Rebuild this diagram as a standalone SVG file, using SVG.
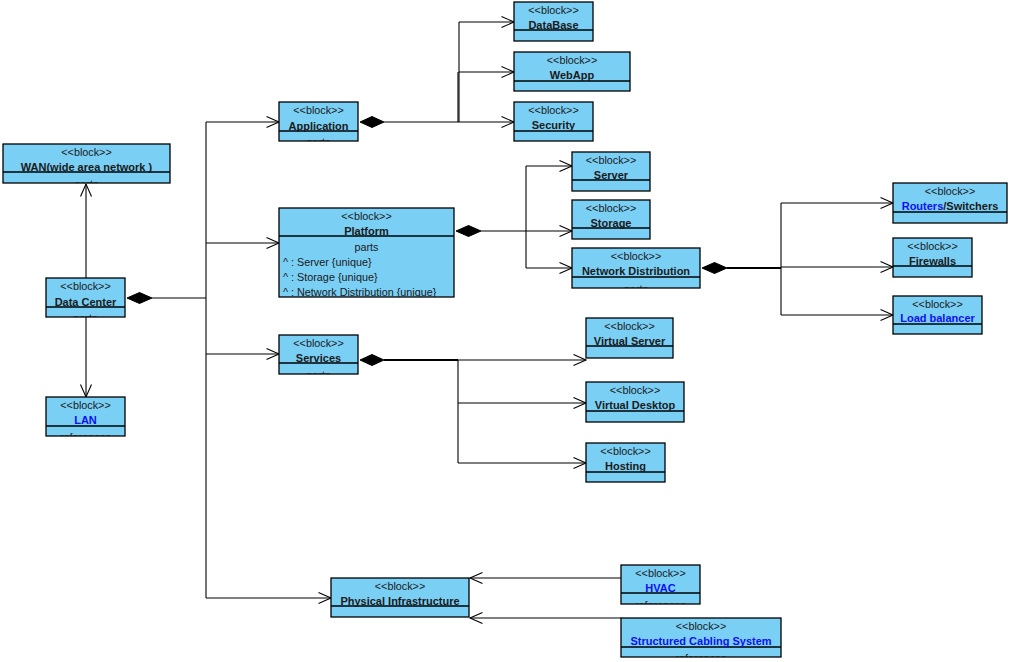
<svg xmlns="http://www.w3.org/2000/svg" width="1012" height="662" viewBox="0 0 1012 662">
<style>
.box{fill:#7ACFF5;stroke:#000;stroke-width:1.3}
.div{stroke:#000;stroke-width:1.3}
text{font-family:"Liberation Sans",Arial,sans-serif;fill:#1a1a1a}
.st{font-size:10.8px;text-anchor:middle}
.nm{font-size:11px;font-weight:bold;text-anchor:middle}
.at{font-size:10.8px}
.ln{fill:#1010f0}
.c{fill:none;stroke:#000;stroke-width:1.1}
.dm{fill:#000;stroke:#000}
</style>
<defs>
<marker id="open" markerUnits="userSpaceOnUse" markerWidth="15" markerHeight="13" refX="13" refY="6.5" orient="auto" viewBox="0 0 15 13">
<path d="M0.5,1 L13,6.5 L0.5,12" fill="none" stroke="#000" stroke-width="1.1"/>
</marker>
</defs>
<rect width="1012" height="662" fill="#fff"/>

<g id="connectors">
<line class="c" x1="86" y1="278" x2="86" y2="184" marker-end="url(#open)"/>
<line class="c" x1="86" y1="317" x2="86" y2="397" marker-end="url(#open)"/>
<polygon class="dm" points="127,298 139.5,292.5 152,298 139.5,303.5"/>
<line class="c" x1="152" y1="298" x2="206" y2="298"/>
<line class="c" x1="206" y1="122" x2="206" y2="598"/>
<line class="c" x1="206" y1="122" x2="279" y2="122" marker-end="url(#open)"/>
<line class="c" x1="206" y1="243" x2="279" y2="243" marker-end="url(#open)"/>
<line class="c" x1="206" y1="354" x2="279" y2="354" marker-end="url(#open)"/>
<line class="c" x1="206" y1="598" x2="331" y2="598" marker-end="url(#open)"/>

<polygon class="dm" points="360,122 372,116.5 384,122 372,127.5"/>
<line class="c" x1="384" y1="122" x2="514" y2="122" marker-end="url(#open)"/>
<line class="c" x1="459" y1="22" x2="459" y2="122"/>
<line class="c" x1="458" y1="72" x2="458" y2="122"/>
<line class="c" x1="459" y1="22" x2="514" y2="22" marker-end="url(#open)"/>
<line class="c" x1="459" y1="72" x2="514" y2="72" marker-end="url(#open)"/>

<polygon class="dm" points="456,231 468.5,225.5 481,231 468.5,236.5"/>
<line class="c" x1="481" y1="231" x2="572" y2="231" marker-end="url(#open)"/>
<line class="c" x1="526" y1="166" x2="526" y2="268"/>
<line class="c" x1="526" y1="166" x2="572" y2="166" marker-end="url(#open)"/>
<line class="c" x1="526" y1="268" x2="572" y2="268" marker-end="url(#open)"/>

<polygon class="dm" points="702,268 714.5,262.5 727,268 714.5,273.5"/>
<line class="c" x1="727" y1="268" x2="781" y2="268" style="stroke-width:2"/>
<line class="c" x1="781" y1="203" x2="781" y2="315"/>
<line class="c" x1="781" y1="203" x2="893" y2="203" marker-end="url(#open)"/>
<line class="c" x1="781" y1="267" x2="893" y2="267" marker-end="url(#open)"/>
<line class="c" x1="781" y1="315" x2="893" y2="315" marker-end="url(#open)"/>

<polygon class="dm" points="360,360 372,354.5 384,360 372,365.5"/>
<line class="c" x1="384" y1="360" x2="458" y2="360" style="stroke-width:2"/>
<line class="c" x1="458" y1="360" x2="586" y2="360" marker-end="url(#open)"/>
<line class="c" x1="458" y1="360" x2="458" y2="463"/>
<line class="c" x1="458" y1="403" x2="586" y2="403" marker-end="url(#open)"/>
<line class="c" x1="458" y1="463" x2="586" y2="463" marker-end="url(#open)"/>

<line class="c" x1="621" y1="578" x2="470" y2="578" marker-end="url(#open)"/>
<line class="c" x1="621" y1="618" x2="470" y2="618" marker-end="url(#open)"/>
</g>

<g id="wan" transform="translate(3,144)">
<rect class="box" width="167" height="39"/>
<line class="div" x1="0" y1="28" x2="167" y2="28"/>
<text class="st" x="83.5" y="12">&lt;&lt;block&gt;&gt;</text>
<text class="nm" x="83.5" y="27">WAN(wide area network )</text>
<svg width="167" height="39"><text class="st" x="83.5" y="43.5">parts</text></svg>
</g>
<g id="datacenter" transform="translate(46,278)">
<rect class="box" width="79" height="39"/>
<line class="div" x1="0" y1="29" x2="79" y2="29"/>
<text class="st" x="39.5" y="12">&lt;&lt;block&gt;&gt;</text>
<text class="nm" x="39.5" y="28">Data Center</text>
<svg width="79" height="39"><text class="st" x="39.5" y="43.5">parts</text></svg>
</g>
<g id="lan" transform="translate(46,397)">
<rect class="box" width="79" height="39"/>
<line class="div" x1="0" y1="29" x2="79" y2="29"/>
<text class="st" x="39.5" y="12">&lt;&lt;block&gt;&gt;</text>
<text class="nm ln" x="39.5" y="27">LAN</text>
<svg width="79" height="39"><text class="st" x="39.5" y="43.5">references</text></svg>
</g>
<g id="application" transform="translate(279,102)">
<rect class="box" width="79" height="39"/>
<line class="div" x1="0" y1="29" x2="79" y2="29"/>
<text class="st" x="39.5" y="12">&lt;&lt;block&gt;&gt;</text>
<text class="nm" x="39.5" y="28">Application</text>
<svg width="79" height="39"><text class="st" x="39.5" y="43.5">parts</text></svg>
</g>
<g id="database" transform="translate(514,2)">
<rect class="box" width="79" height="39"/>
<line class="div" x1="0" y1="28" x2="79" y2="28"/>
<text class="st" x="39.5" y="12">&lt;&lt;block&gt;&gt;</text>
<text class="nm" x="39.5" y="27">DataBase</text>
</g>
<g id="webapp" transform="translate(514,52)">
<rect class="box" width="116" height="39"/>
<line class="div" x1="0" y1="29" x2="116" y2="29"/>
<text class="st" x="58" y="12">&lt;&lt;block&gt;&gt;</text>
<text class="nm" x="58" y="27">WebApp</text>
</g>
<g id="security" transform="translate(514,102)">
<rect class="box" width="79" height="39"/>
<line class="div" x1="0" y1="29" x2="79" y2="29"/>
<text class="st" x="39.5" y="12">&lt;&lt;block&gt;&gt;</text>
<text class="nm" x="39.5" y="27">Security</text>
</g>
<g id="platform" transform="translate(279,208)">
<rect class="box" width="175" height="89"/>
<line class="div" x1="0" y1="28" x2="175" y2="28"/>
<text class="st" x="87.5" y="12">&lt;&lt;block&gt;&gt;</text>
<text class="nm" x="87.5" y="27">Platform</text>
<svg width="175" height="89">
<text class="st" x="87.5" y="43">parts</text>
<text class="at" x="4" y="58">^ : Server {unique}</text>
<text class="at" x="4" y="73">^ : Storage {unique}</text>
<text class="at" x="4" y="88">^ : Network Distribution {unique}</text>
</svg>
</g>
<g id="server" transform="translate(572,152)">
<rect class="box" width="78" height="39"/>
<line class="div" x1="0" y1="28" x2="78" y2="28"/>
<text class="st" x="39" y="12">&lt;&lt;block&gt;&gt;</text>
<text class="nm" x="39" y="27">Server</text>
</g>
<g id="storage" transform="translate(572,200)">
<rect class="box" width="78" height="39"/>
<line class="div" x1="0" y1="28" x2="78" y2="28"/>
<text class="st" x="39" y="12">&lt;&lt;block&gt;&gt;</text>
<text class="nm" x="39" y="27">Storage</text>
</g>
<g id="networkdistribution" transform="translate(572,248)">
<rect class="box" width="128" height="40"/>
<line class="div" x1="0" y1="29" x2="128" y2="29"/>
<text class="st" x="64" y="12">&lt;&lt;block&gt;&gt;</text>
<text class="nm" x="64" y="27">Network Distribution</text>
<svg width="128" height="40"><text class="st" x="64" y="44.5">parts</text></svg>
</g>
<g id="routers" transform="translate(893,183)">
<rect class="box" width="114" height="40"/>
<line class="div" x1="0" y1="29" x2="114" y2="29"/>
<text class="st" x="57" y="12">&lt;&lt;block&gt;&gt;</text>
<text class="nm" x="57" y="27"><tspan class="ln">Routers</tspan>/Switchers</text>
</g>
<g id="firewalls" transform="translate(893,238)">
<rect class="box" width="79" height="39"/>
<line class="div" x1="0" y1="28" x2="79" y2="28"/>
<text class="st" x="39.5" y="12">&lt;&lt;block&gt;&gt;</text>
<text class="nm" x="39.5" y="27">Firewalls</text>
</g>
<g id="loadbalancer" transform="translate(893,296)">
<rect class="box" width="89" height="38"/>
<line class="div" x1="0" y1="28" x2="89" y2="28"/>
<text class="st" x="44.5" y="12">&lt;&lt;block&gt;&gt;</text>
<text class="nm ln" x="44.5" y="26">Load balancer</text>
</g>
<g id="services" transform="translate(279,335)">
<rect class="box" width="79" height="39"/>
<line class="div" x1="0" y1="28" x2="79" y2="28"/>
<text class="st" x="39.5" y="12">&lt;&lt;block&gt;&gt;</text>
<text class="nm" x="39.5" y="27">Services</text>
<svg width="79" height="39"><text class="st" x="39.5" y="43.5">parts</text></svg>
</g>
<g id="virtualserver" transform="translate(586,318)">
<rect class="box" width="87" height="40"/>
<line class="div" x1="0" y1="28" x2="87" y2="28"/>
<text class="st" x="43.5" y="12">&lt;&lt;block&gt;&gt;</text>
<text class="nm" x="43.5" y="27">Virtual Server</text>
</g>
<g id="virtualdesktop" transform="translate(586,382)">
<rect class="box" width="98" height="40"/>
<line class="div" x1="0" y1="29" x2="98" y2="29"/>
<text class="st" x="49" y="12">&lt;&lt;block&gt;&gt;</text>
<text class="nm" x="49" y="27">Virtual Desktop</text>
</g>
<g id="hosting" transform="translate(586,443)">
<rect class="box" width="79" height="39"/>
<line class="div" x1="0" y1="29" x2="79" y2="29"/>
<text class="st" x="39.5" y="12">&lt;&lt;block&gt;&gt;</text>
<text class="nm" x="39.5" y="27">Hosting</text>
</g>
<g id="physicalinfrastructure" transform="translate(331,578)">
<rect class="box" width="138" height="39"/>
<line class="div" x1="0" y1="28" x2="138" y2="28"/>
<text class="st" x="69" y="12">&lt;&lt;block&gt;&gt;</text>
<text class="nm" x="69" y="27">Physical Infrastructure</text>
</g>
<g id="hvac" transform="translate(621,565)">
<rect class="box" width="79" height="39"/>
<line class="div" x1="0" y1="28" x2="79" y2="28"/>
<text class="st" x="39.5" y="12">&lt;&lt;block&gt;&gt;</text>
<text class="nm ln" x="39.5" y="27">HVAC</text>
<svg width="79" height="39"><text class="st" x="39.5" y="43.5">references</text></svg>
</g>
<g id="cabling" transform="translate(621,618)">
<rect class="box" width="160" height="39"/>
<line class="div" x1="0" y1="29" x2="160" y2="29"/>
<text class="st" x="80" y="12">&lt;&lt;block&gt;&gt;</text>
<text class="nm ln" x="80" y="27">Structured Cabling System</text>
<svg width="160" height="39"><text class="st" x="80" y="43.5">references</text></svg>
</g>
</svg>
